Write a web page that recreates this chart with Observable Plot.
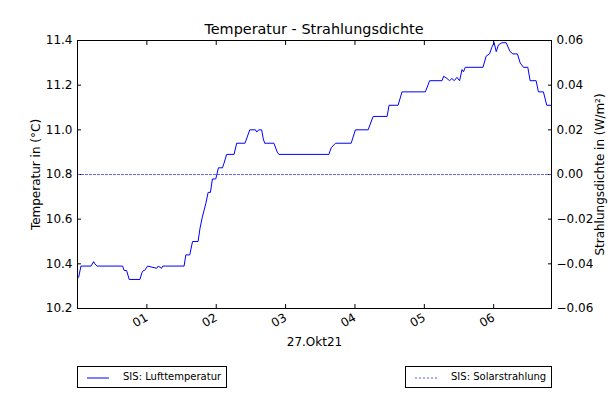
<!DOCTYPE html>
<html><head><meta charset="utf-8">
<script src="https://cdn.jsdelivr.net/npm/d3@7"></script>
<script src="https://cdn.jsdelivr.net/npm/@observablehq/plot@0.6"></script>
<style>
body{margin:0;background:#fff;font-family:"DejaVu Sans",sans-serif;}
#wrap{position:relative;width:612px;height:396px;}
#title{position:absolute;left:77px;width:474px;top:21px;text-align:center;font-size:14.4px;color:#000;z-index:2;}
.leg{position:absolute;top:366px;height:22px;border:1px solid #000;box-sizing:border-box;background:#fff;font-size:10px;}
.leg svg{position:absolute;left:9px;top:10px;}
.leg span{position:absolute;left:45px;top:4px;white-space:nowrap;}
</style></head>
<body><div id="wrap"><div id="title">Temperatur - Strahlungsdichte</div></div>
<script>
// minutes after 00:00 on 27.Okt21
const tempMinutes = [1,3,11.7,14,15,17,39,40.4,42.5,44.7,54,55.7,57,58,60.6,68.6,69.8,72.7,73.8,92.2,93.7,97.1,99.5,104.3,106,108,111,113,115,116.7,119.6,121.9,125.4,126.7,129,135.4,137.7,144.9,149,154,155,156.7,159.3,160.7,161.9,169.9,172.8,174.2,217.4,219.5,223.2,236.7,240.4,251.4,255.7,267.8,269.5,277.3,280.7,300.9,304.6,315.3,316.7,319.6,321.8,323.9,325.9,328.2,330.5,332.6,333.9,335.4,350.7,353.5,356.4,358.4,360.4,362.2,364.1,367.1,370.8,374.2,376.6,380.5,382.9,385.7,389.5,391.5,396.7,398.7,403,405.9,410];
const tempValues = [10.34,10.39,10.39,10.41,10.40,10.39,10.39,10.37,10.37,10.33,10.33,10.36,10.37,10.37,10.39,10.38,10.39,10.38,10.39,10.39,10.44,10.44,10.50,10.50,10.56,10.61,10.67,10.72,10.72,10.78,10.78,10.83,10.83,10.85,10.89,10.89,10.94,10.94,11.00,11.00,10.99,11.00,11.00,10.96,10.94,10.94,10.90,10.89,10.89,10.92,10.94,10.94,11.00,11.00,11.06,11.06,11.11,11.11,11.17,11.17,11.22,11.22,11.24,11.23,11.22,11.23,11.22,11.235,11.22,11.27,11.26,11.28,11.28,11.33,11.34,11.37,11.39,11.35,11.38,11.39,11.39,11.35,11.34,11.34,11.30,11.28,11.28,11.22,11.22,11.17,11.17,11.11,11.11];
const radMinutes = [0, 410];
const radValues = [0, 0];
const hourTicks = [60,120,180,240,300,360];
const hourLabels = ["01","02","03","04","05","06"];
const tempTicks = [10.2,10.4,10.6,10.8,11.0,11.2,11.4];
const radTicks = [-0.06,-0.04,-0.02,0.00,0.02,0.04,0.06];

const temp = tempMinutes.map((m,i)=>({m, v: tempValues[i]}));
const rad = radMinutes.map((m,i)=>({m, r: radValues[i]}));
// map radiation axis (-0.06..0.06) onto temperature axis (10.2..11.4)
const r2t = r => 10.8 + r*10;
const fmtR = r => (Math.abs(r)<1e-9 ? "0.00" : (r<0 ? "\u2212"+(-r).toFixed(2) : r.toFixed(2)));
const radTickPos = radTicks.map(r2t);

const chart = Plot.plot({
  width: 612, height: 396,
  marginLeft: 77, marginRight: 61, marginTop: 40, marginBottom: 88,
  style: {fontFamily: "DejaVu Sans", fontSize: "12px", color: "#000", background: "#fff"},
  x: {domain: [0, 410]},
  y: {domain: [10.2, 11.4]},
  marks: [
    Plot.axisX({anchor:"bottom", ticks: hourTicks, tickFormat: d => hourLabels[hourTicks.indexOf(d)], tickSize: -4, tickPadding: 12, tickRotate: -30, label: "27.Okt21", labelArrow: "none", labelAnchor: "center", labelOffset: 37, fontSize: 12}),
    Plot.axisX({anchor:"top", ticks: hourTicks, tickFormat: () => "", tickSize: -4, label: null}),
    Plot.axisY({anchor:"left", ticks: tempTicks, tickFormat: d => d.toFixed(1), tickSize: -4, tickPadding: 9, label: "Temperatur in (°C)", labelArrow: "none", labelAnchor: "center", labelOffset: 46, fontSize: 12}),
    Plot.axisY({anchor:"right", ticks: radTickPos, tickFormat: t => fmtR(radTicks[radTickPos.findIndex(x=>Math.abs(x-t)<1e-6)]), tickSize: -4, tickPadding: 9, label: "Strahlungsdichte in (W/m²)", labelArrow: "none", labelAnchor: "center", labelOffset: 52, fontSize: 12}),
    Plot.line(rad, {x: "m", y: d => r2t(d.r), stroke: "#5a5aff", strokeWidth: 1, strokeDasharray: "2,2"}),
    Plot.line(temp, {x: "m", y: "v", stroke: "#0000ff", strokeWidth: 1}),
    Plot.frame({stroke: "#000", strokeWidth: 1})
  ]
});
const wrap = document.getElementById("wrap");
wrap.appendChild(chart);
chart.style.position = "absolute"; chart.style.left = "0"; chart.style.top = "0";
function legend(left, width, text, dash, color){
  const d = document.createElement("div");
  d.className = "leg"; d.style.left = left+"px"; d.style.width = width+"px";
  d.innerHTML = `<svg width="22" height="2"><line x1="0" y1="1" x2="22" y2="1" stroke="${color}" stroke-width="1" ${dash?'stroke-dasharray="2,2"':''}/></svg><span>${text}</span>`;
  wrap.appendChild(d);
}
legend(77, 150, "SIS: Lufttemperatur", false, "#0000ff");
legend(405, 147, "SIS: Solarstrahlung", true, "#5a5aff");
</script></body></html>
